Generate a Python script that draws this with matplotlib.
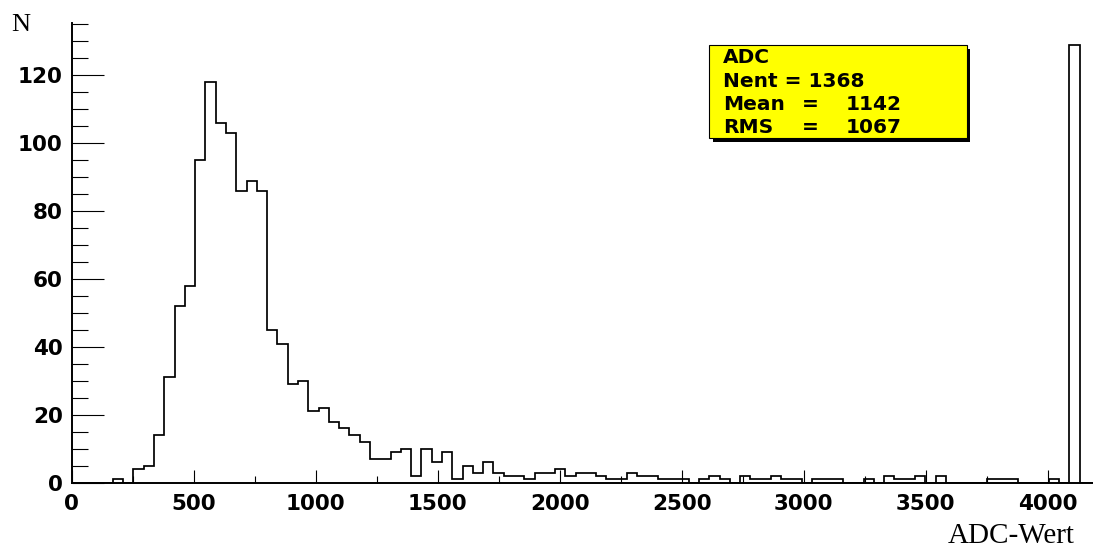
import numpy as np
import matplotlib
matplotlib.use("Agg")
from matplotlib import pyplot as plt
from matplotlib.patches import Rectangle
from matplotlib.ticker import MultipleLocator

W_PX, H_PX = 1093, 549

# histogram definition (100 bins)
N_BINS = 100
X_LO = 0
X_HI = 4215

COUNTS = [
    0, 0, 0, 0, 1, 0, 4, 5, 14, 31,
    52, 58, 95, 118, 106, 103, 86, 89, 86, 45,
    41, 29, 30, 21, 22, 18, 16, 14, 12, 7,
    7, 9, 10, 2, 10, 6, 9, 1, 5, 3,
    6, 3, 2, 2, 1, 3, 3, 4, 2, 3,
    3, 2, 1, 1, 3, 2, 2, 1, 1, 1,
    0, 1, 2, 1, 0, 2, 1, 1, 2, 1,
    1, 0, 1, 1, 1, 0, 0, 1, 0, 2,
    1, 1, 2, 0, 2, 0, 0, 0, 0, 1,
    1, 1, 0, 0, 0, 1, 0, 129, 0, 0,
]

STAT_TITLE = "ADC"
STAT_ROWS = [("Mean", "1142"), ("RMS", "1067")]
N_ENTRIES = "1368"

X_LABEL = "ADC-Wert"
Y_LABEL = "N"


def px(x, y):
    # pixel position (from top-left) -> figure fraction
    return x / W_PX, 1 - y / H_PX


fig = plt.figure(figsize=(W_PX / 100, H_PX / 100), dpi=100)

x0, y0 = 71.7, 482.7
x_scale = 0.244      # px per ADC unit
y_scale = 3.395      # px per count
ymax = 1.05 * max(COUNTS)
ax_w = (X_HI - X_LO) * x_scale
ax_h = ymax * y_scale
ax = fig.add_axes([x0 / W_PX, 1 - y0 / H_PX, ax_w / W_PX, ax_h / H_PX])

edges = np.linspace(X_LO, X_HI, N_BINS + 1)
ax.stairs(COUNTS, edges, color="black", lw=1.25)

ax.set_xlim(X_LO, X_HI)
ax.set_ylim(0, ymax)

for s in ["top", "right"]:
    ax.spines[s].set_visible(False)
for s in ["left", "bottom"]:
    ax.spines[s].set_linewidth(1.4)
    ax.spines[s].set_zorder(3)

ax.xaxis.set_major_locator(MultipleLocator(500))
ax.xaxis.set_minor_locator(MultipleLocator(250))
ax.yaxis.set_major_locator(MultipleLocator(20))
ax.yaxis.set_minor_locator(MultipleLocator(5))

ax.tick_params(axis="x", which="major", direction="in", length=9.4, width=0.8, pad=8)
ax.tick_params(axis="x", which="minor", direction="in", length=4.7, width=0.8)
ax.tick_params(axis="y", which="major", direction="in", length=23, width=0.8, pad=6.5)
ax.tick_params(axis="y", which="minor", direction="in", length=11.5, width=0.8)

for lab in ax.get_xticklabels() + ax.get_yticklabels():
    lab.set_fontweight("bold")
    lab.set_fontsize(15.5)
    lab.set_family("DejaVu Sans")

# axis titles
fig.text(*px(11, 31), Y_LABEL, family="Liberation Serif", fontsize=19,
         ha="left", va="baseline")
fig.text(*px(1075, 543), X_LABEL, family="Liberation Serif", fontsize=21,
         ha="right", va="baseline")

# stats box with shadow
bx0, by0, bx1, by1 = 709.3, 45, 966.7, 138.3
sh = 3.5
fx, fy = px(bx0 + sh, by1 + sh)
fig.add_artist(Rectangle((fx, fy), (bx1 - bx0) / W_PX, (by1 - by0) / H_PX,
                         transform=fig.transFigure, facecolor="black",
                         edgecolor="none", zorder=5))
fx, fy = px(bx0, by1)
fig.add_artist(Rectangle((fx, fy), (bx1 - bx0) / W_PX, (by1 - by0) / H_PX,
                         transform=fig.transFigure, facecolor="#ffff00",
                         edgecolor="black", lw=0.8, zorder=6))

stat_kw = dict(family="DejaVu Sans", fontweight="bold", fontsize=14.5,
               va="baseline", zorder=7)
tx = 723
fig.text(*px(tx, 63.3), STAT_TITLE, ha="left", **stat_kw)
fig.text(*px(tx, 86.7), "Nent = " + N_ENTRIES, ha="left", **stat_kw)
for i, (name, value) in enumerate(STAT_ROWS):
    yb = 110 + 23.3 * i
    fig.text(*px(tx, yb), name, ha="left", **stat_kw)
    fig.text(*px(810, yb), "=", ha="center", **stat_kw)
    fig.text(*px(901.7, yb), value, ha="right", **stat_kw)

fig.savefig("out.png", dpi=100)
